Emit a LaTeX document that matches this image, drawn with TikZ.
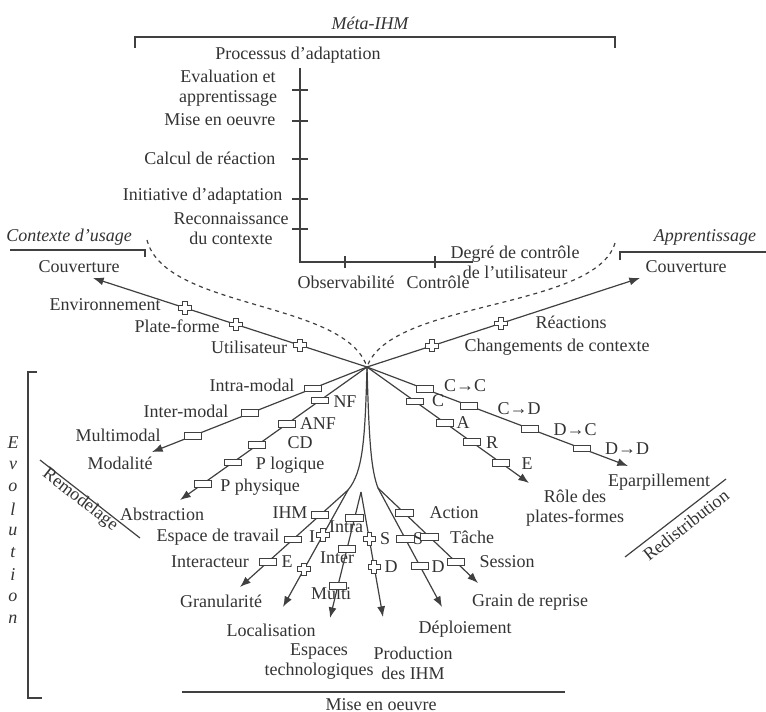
\documentclass[tikz,border=0pt]{standalone}
\usepackage{fontspec}
\setmainfont{Liberation Serif}
\usetikzlibrary{arrows.meta}

\begin{document}
\begin{tikzpicture}[x=0.75pt,y=-0.75pt,
    every node/.append style={text=black!80,font=\fontsize{13.5}{15}\selectfont,inner sep=1pt},
    ital/.style={font=\fontsize{13.5}{15}\selectfont\itshape},
    ln/.style={draw=black!75,line width=.9pt},
    arr/.style={ln,-{Latex[length=8pt,width=6pt]}},
    rectmark/.style={draw=black!75,fill=white,line width=.7pt,minimum width=13pt,minimum height=5pt,inner sep=0pt},
    plusmark/.style={inner sep=0pt,minimum size=11pt,
      path picture={\filldraw[fill=white,draw=black!75,line width=.7pt]
        ([shift={(-1.7pt,4.6pt)}]path picture bounding box.center)
        -- ++(3.4pt,0pt) -- ++(0pt,-2.9pt) -- ++(2.9pt,0pt) -- ++(0pt,-3.4pt)
        -- ++(-2.9pt,0pt) -- ++(0pt,-2.9pt) -- ++(-3.4pt,0pt) -- ++(0pt,2.9pt)
        -- ++(-2.9pt,0pt) -- ++(0pt,3.4pt) -- ++(2.9pt,0pt) -- cycle;}}]
  \useasboundingbox (0,0) rectangle (766,711);

  \node[ital] (meta) at (370,23) {Méta-IHM};
  \draw[ln] (135,48) -- (135,37) -- (615,37) -- (615,48);
  \node (proc) at (298,55) {Processus d'adaptation};
  \coordinate (axtop) at (300,68);
  \coordinate (axo) at (300,262);
  \coordinate (axend) at (473,262);
  \draw[ln] (axtop) -- (axo) -- (axend);
  \foreach \y in {90,121,159,199,229}
    \draw[ln] (292,\y) -- (308,\y);
  \foreach \x in {345,435}
    \draw[ln] (\x,256) -- (\x,268);
  \node[align=center] (evap) at (228,88) {Evaluation et\\apprentissage};
  \node[anchor=east] (miseo) at (277,120) {Mise en oeuvre};
  \node[anchor=east] (calc) at (277,158) {Calcul de réaction};
  \node[anchor=east] (init) at (284,196) {Initiative d'adaptation};
  \node[align=center] (recon) at (231,229) {Reconnaissance\\du contexte};
  \node (obs) at (346,282) {Observabilité};
  \node (ctrl) at (438,282) {Contrôle};
  \node[align=center] (degre) at (515,262) {Degré de contrôle\\de l'utilisateur};

  \node[ital] (ctx) at (69,237) {Contexte d'usage};
  \draw[ln] (10,250) -- (145,250) -- (145,257);
  \node[ital] (appr) at (705,237) {Apprentissage};
  \draw[ln] (620,260) -- (620,252) -- (766,252);

  \coordinate (hub) at (367,367);
  \coordinate (ctxend) at (147,240);
  \coordinate (apprend) at (615,243);
  \draw[ln,dashed] (ctxend) .. controls (165,310) and (345,300) .. (hub);
  \draw[ln,dashed] (apprend) .. controls (595,310) and (390,300) .. (hub);

  \node (couvLt) at (79,267) {Couverture};
  \node (env) at (105,305) {Environnement};
  \node (plat) at (177,326) {Plate-forme};
  \node (util) at (249,347) {Utilisateur};
  \node (couvRt) at (686,267) {Couverture};
  \node (reac) at (571,322) {Réactions};
  \node (chg) at (557,347) {Changements de contexte};
  \coordinate (couvL) at (93,278);
  \coordinate (couvR) at (640,278);
  \draw[arr] (hub) -- node[pos=.245,plusmark] (pUtil) {} node[pos=.478,plusmark] (pPlat) {}
    node[pos=.664,plusmark] (pEnv) {} (couvL);
  \draw[arr] (hub) -- node[pos=.238,plusmark] (pChg) {} node[pos=.491,plusmark] (pReac) {} (couvR);

  \node (intram) at (252,385) {Intra-modal};
  \node (interm) at (186,411) {Inter-modal};
  \node (multim) at (118,435) {Multimodal};
  \node (modt) at (120,463) {Modalité};
  \coordinate (modal) at (152,452);
  \draw[arr] (hub) -- node[pos=.251,rectmark] (rIntra) {} node[pos=.544,rectmark] (rInter) {}
    node[pos=.809,rectmark] (rMulti) {} (modal);

  \node (nf) at (345,402) {NF};
  \node (anf) at (318,424) {ANF};
  \node (cd) at (300,443) {CD};
  \node (plog) at (290,465) {P logique};
  \node (pphy) at (260,487) {P physique};
  \node (abst) at (162,514) {Abstraction};
  \coordinate (abstr) at (180,500);
  \draw[arr] (hub) -- node[pos=.251,rectmark] (rNF) {} node[pos=.428,rectmark] (rANF) {}
    node[pos=.588,rectmark] (rCD) {} node[pos=.717,rectmark] (rPlog) {}
    node[pos=.877,rectmark] (rPphy) {} (abstr);

  \draw[ln] (40,460) -- (140,538);
  \node[rotate=-38] (remod) at (80,500) {Remodelage};

  \node (cc) at (465,386) {C→C};
  \node (cdd) at (519,409) {C→D};
  \node (dc) at (575,430) {D→C};
  \node (dd) at (627,449) {D→D};
  \node (epart) at (659,482) {Eparpillement};
  \coordinate (epar) at (628,466);
  \draw[arr] (hub) -- node[pos=.222,rectmark] (rCC) {} node[pos=.391,rectmark] (rCDD) {}
    node[pos=.625,rectmark] (rDC) {} node[pos=.824,rectmark] (rDD) {} (epar);

  \node (lc) at (438,401) {C};
  \node (la) at (463,423) {A};
  \node (lr) at (492,443) {R};
  \node (le) at (527,464) {E};
  \node[align=center] (rolet) at (575,508) {Rôle des\\plates-formes};
  \coordinate (role) at (529,483);
  \draw[arr] (hub) -- node[pos=.296,rectmark] (rC) {} node[pos=.481,rectmark] (rA) {}
    node[pos=.648,rectmark] (rR) {} node[pos=.827,rectmark] (rE) {} (role);

  \draw[ln] (625,557) -- (726,479);
  \node[rotate=38] (redis) at (686,525) {Redistribution};

  \node (ihm) at (290,513) {IHM};
  \node (espt) at (218,537) {Espace de travail};
  \node (li) at (312,537) {I};
  \node (interact) at (210,562) {Interacteur};
  \node (lE) at (287,562) {E};
  \node (granut) at (221,601) {Granularité};
  \node (localt) at (271,630) {Localisation};
  \node (intra) at (346,527) {Intra};
  \node (inter) at (337,558) {Inter};
  \node (multi) at (331,593) {Multi};
  \node[align=center] (espacest) at (319,662) {Espaces\\technologiques};
  \node (ls1) at (385,539) {S};
  \node (ld1) at (391,567) {D};
  \node (ls2) at (418,539) {S};
  \node (ld2) at (438,567) {D};
  \node (action) at (454,513) {Action};
  \node (tache) at (472,537) {Tâche};
  \node (session) at (507,562) {Session};
  \node (graint) at (530,602) {Grain de reprise};
  \node (deploit) at (465,629) {Déploiement};
  \node[align=center] (prodt) at (413,663) {Production\\des IHM};

  \coordinate (splitL) at (348,490);
  \coordinate (splitR) at (378,488);
  \coordinate (apex) at (361,492);
  \draw[ln] (hub) .. controls (365,440) and (363,472) .. (splitL);
  \draw[ln] (hub) .. controls (369,440) and (371,470) .. (splitR);
  \coordinate (granu) at (240,587);
  \coordinate (local) at (283,607);
  \coordinate (espaces) at (330,618);
  \coordinate (prod) at (383,617);
  \coordinate (deploi) at (442,607);
  \coordinate (grain) at (478,583);
  \draw[arr] (splitL) -- node[pos=.259,rectmark] (rIHM) {} node[pos=.509,rectmark] (rEsp) {}
    node[pos=.741,rectmark] (rInteract) {} (granu);
  \draw[arr] (splitL) -- node[pos=.385,plusmark] (pI) {} node[pos=.677,plusmark] (pE) {} (local);
  \draw[arr] (apex) -- node[pos=.206,rectmark] (rIntra2) {} node[pos=.452,rectmark] (rInter2) {}
    node[pos=.746,rectmark] (rMulti2) {} (espaces);
  \draw[arr] (apex) -- node[pos=.376,plusmark] (pS) {} node[pos=.6,plusmark] (pD) {} (prod);
  \draw[arr] (splitR) -- node[pos=.429,rectmark] (rS) {} node[pos=.655,rectmark] (rD) {} (deploi);
  \draw[arr] (splitR) -- node[pos=.263,rectmark] (rAction) {} node[pos=.516,rectmark] (rTache) {}
    node[pos=.779,rectmark] (rSession) {} (grain);

  \draw[ln] (37,372) -- (28,372) -- (28,698) -- (42,698);
  \foreach \l [count=\i] in {E,v,o,l,u,t,i,o,n}
    \node[ital] (evo\i) at (13,421+22*\i) {\l};
  \draw[ln] (182,692) -- (565,692);
  \node (misebas) at (381,705) {Mise en oeuvre};
\end{tikzpicture}
\end{document}
